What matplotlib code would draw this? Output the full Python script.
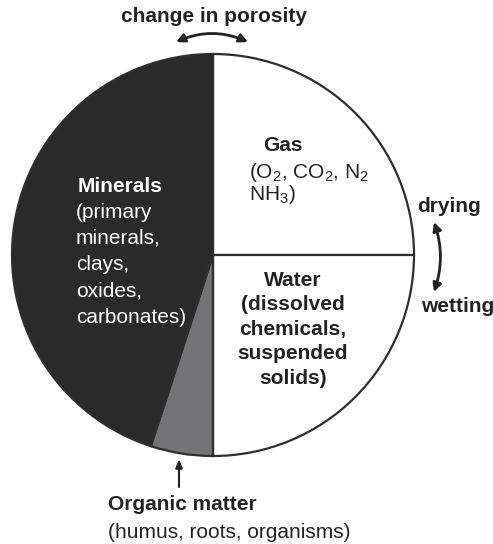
import matplotlib.pyplot as plt

plt.rcParams['font.family'] = ['Liberation Sans', 'DejaVu Sans']
plt.rcParams['mathtext.fontset'] = 'custom'
plt.rcParams['mathtext.rm'] = 'Liberation Sans'
plt.rcParams['mathtext.it'] = 'Liberation Sans:italic'
plt.rcParams['mathtext.bf'] = 'Liberation Sans:bold'

# soil components, share of the volume (%)
components = ["Gas", "Water", "Organic matter", "Minerals"]
shares = [25, 25, 5, 45]
colors = ["white", "white", "#747477", "#2b2a2b"]

W, H = 493, 544
ink = "#222222"


def fx(x):
    return x / W


def fy(y):
    return 1 - y / H


fig = plt.figure(figsize=(W / 100, H / 100), dpi=100)

# pie: centre (213, 255) px, radius 201 px
cx, cy, r = 213, 255, 201
ax = fig.add_axes([fx(cx - r), fy(cy + r), 2 * r / W, 2 * r / H])
ax.pie(shares, colors=colors, startangle=90, counterclock=False, radius=1,
       wedgeprops=dict(edgecolor="#2e2e2e", linewidth=1.6, clip_on=False))
ax.set_xlim(-1, 1)
ax.set_ylim(-1, 1)
ax.axis('off')

fs = 15

# top label and arrow
fig.text(fx(214), fy(17), "change in porosity", ha='center', va='center',
         fontsize=fs, fontweight='bold', color=ink)
ax.annotate('', xy=(fx(248), fy(42)), xytext=(fx(176), fy(42)),
            xycoords='figure fraction', textcoords='figure fraction',
            arrowprops=dict(arrowstyle='<|-|>,head_length=0.5,head_width=0.25',
                            connectionstyle='arc3,rad=-0.22', lw=2, color=ink,
                            shrinkA=0, shrinkB=0))

# gas
fig.text(fx(283), fy(146), components[0], ha='center', va='center',
         fontsize=fs, fontweight='bold', color=ink)
fig.text(fx(249), fy(173), r"(O$_2$, CO$_2$, N$_2$", ha='left', va='center',
         fontsize=fs, color=ink)
fig.text(fx(249), fy(194), r"NH$_3$)", ha='left', va='center',
         fontsize=fs, color=ink)

# minerals
fig.text(fx(78), fy(187), components[3], ha='left', va='center',
         fontsize=fs, fontweight='bold', color='white')
mineral_lines = ["(primary", "minerals,", "clays,", "oxides,", "carbonates)"]
for i, line in enumerate(mineral_lines):
    fig.text(fx(76), fy(212 + 26.3 * i), line, ha='left', va='center',
             fontsize=fs, color='white')

# water
water_lines = [components[1], "(dissolved", "chemicals,", "suspended", "solids)"]
for i, line in enumerate(water_lines):
    fig.text(fx(293), fy(280 + 24.6 * i), line, ha='center', va='center',
             fontsize=fs, fontweight='bold', color=ink)

# drying / wetting
fig.text(fx(417), fy(206), "drying", ha='left', va='center',
         fontsize=fs, fontweight='bold', color=ink)
fig.text(fx(421), fy(307), "wetting", ha='left', va='center',
         fontsize=fs, fontweight='bold', color=ink)
ax.annotate('', xy=(fx(434), fy(292)), xytext=(fx(434), fy(222)),
            xycoords='figure fraction', textcoords='figure fraction',
            arrowprops=dict(arrowstyle='<|-|>,head_length=0.5,head_width=0.25',
                            connectionstyle='arc3,rad=-0.17', lw=2, color=ink,
                            shrinkA=0, shrinkB=0))

# organic matter
ax.annotate('', xy=(fx(179), fy(459)), xytext=(fx(179), fy(487)),
            xycoords='figure fraction', textcoords='figure fraction',
            arrowprops=dict(arrowstyle='-|>,head_length=0.5,head_width=0.2',
                            lw=1.5, color=ink, shrinkA=0, shrinkB=0))
fig.text(fx(108), fy(505), components[2], ha='left', va='center',
         fontsize=fs, fontweight='bold', color=ink)
fig.text(fx(108), fy(532), "(humus, roots, organisms)", ha='left', va='center',
         fontsize=fs, color=ink)

fig.savefig("out.png", dpi=100)
